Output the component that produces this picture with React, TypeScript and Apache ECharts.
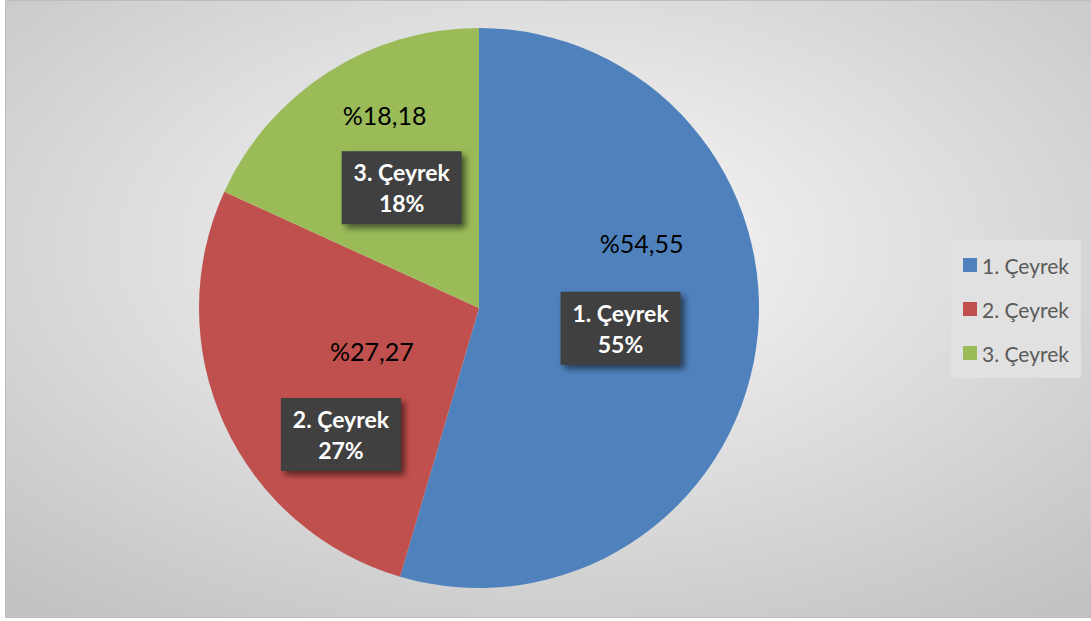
import React, { useEffect, useRef } from "react";
import * as echarts from "echarts";

const categories = ["1. Çeyrek", "2. Çeyrek", "3. Çeyrek"];
const values = [54.55, 27.27, 18.18];
const colors = ["#4f81bd", "#c0504d", "#9bbb59"];

// label nudges (style only)
const boxShift = [[0, 0], [-8, 67], [0, 0]];
const pctShift = [[21, -85], [23, -16], [-17, -73]];

const FONT = "Lato, 'Open Sans', sans-serif";

export default function App() {
  const ref = useRef<HTMLDivElement>(null);
  useEffect(() => {
    const chart = echarts.init(ref.current!, null, { renderer: "svg" });
    const data = categories.map((c, i) => ({ name: c, value: values[i] }));
    chart.setOption({
      animation: false,
      graphic: [
        {
          type: "rect",
          z: -10,
          silent: true,
          shape: { x: 5.5, y: 0.5, width: 1090, height: 617 },
          style: {
            fill: new echarts.graphic.RadialGradient(0.5, 0.4, 0.75, [
              { offset: 0, color: "#fafafa" },
              { offset: 1, color: "#c2c2c2" },
            ]),
            stroke: "#bdbdbd",
            lineWidth: 1,
          },
        },
      ],
      legend: {
        orient: "vertical",
        left: 951,
        top: 240,
        width: 132,
        padding: [14, 12, 14, 12],
        backgroundColor: "#e1e1e1",
        itemWidth: 14,
        itemHeight: 14,
        itemGap: 22,
        icon: "rect",
        data: categories,
        textStyle: { fontFamily: FONT, fontSize: 21, color: "#595959", lineHeight: 22 },
      },
      series: [
        {
          type: "pie",
          center: [479, 308],
          radius: [0, 280],
          startAngle: 90,
          clockwise: true,
          silent: true,
          emphasis: { disabled: true },
          color: colors,
          data,
          labelLine: { show: false },
          label: {
            show: true,
            position: "inside",
            formatter: (p: any) => `${p.name}\n${Math.round(p.percent)}%`,
            fontFamily: FONT,
            fontSize: 23,
            fontWeight: "bold",
            color: "#ffffff",
            lineHeight: 31,
            width: 120,
            align: "center",
            backgroundColor: "#3f3f3f",
            padding: [6, 0, 5, 0],
            shadowColor: "rgba(0,0,0,0.55)",
            shadowBlur: 6,
            shadowOffsetX: 4,
            shadowOffsetY: 4,
          },
          labelLayout: (p: any) => ({ dx: boxShift[p.dataIndex][0], dy: boxShift[p.dataIndex][1] }),
        },
        {
          type: "pie",
          center: [479, 308],
          radius: [0, 280],
          startAngle: 90,
          clockwise: true,
          silent: true,
          emphasis: { disabled: true },
          data,
          itemStyle: { color: "rgba(0,0,0,0)" },
          labelLine: { show: false },
          label: {
            show: true,
            position: "inside",
            formatter: (p: any) => "%" + Number(p.value).toFixed(2).replace(".", ","),
            fontFamily: FONT,
            fontSize: 25,
            color: "#000000",
          },
          labelLayout: (p: any) => ({ dx: pctShift[p.dataIndex][0], dy: pctShift[p.dataIndex][1] }),
        },
      ],
    });
    return () => chart.dispose();
  }, []);
  return (
    <div
      ref={ref}
      style={{ position: "fixed", left: 0, top: 0, width: 1091, height: 621, background: "#ffffff" }}
    />
  );
}
